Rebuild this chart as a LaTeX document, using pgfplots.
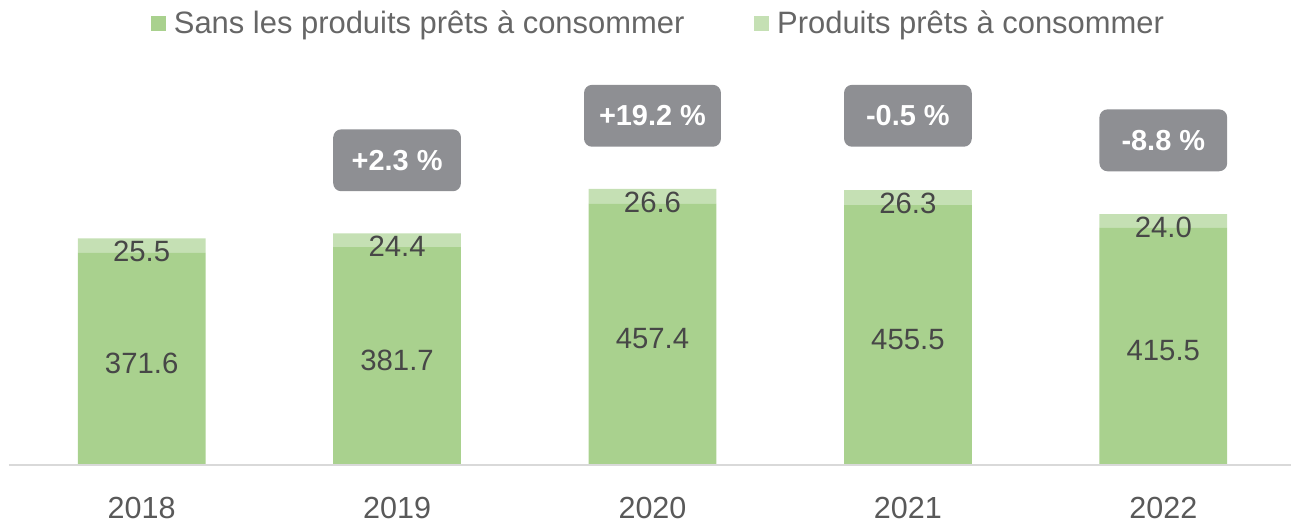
\documentclass[border=0pt]{standalone}
\usepackage{pgfplots}
\pgfplotsset{compat=1.18}
\usepackage{fontspec}
\setmainfont{Liberation Sans}
\definecolor{dgreen}{HTML}{A9D18E}
\definecolor{lgreen}{HTML}{C5E0B4}
\definecolor{boxgray}{HTML}{8E8F93}
\definecolor{txt}{HTML}{474747}
\definecolor{ticktxt}{HTML}{595959}
\definecolor{legtxt}{HTML}{666666}
\definecolor{axline}{HTML}{D9D9D9}
\begin{document}
\begin{tikzpicture}
\begin{axis}[
  at={(0,0)}, anchor=south west,
  width=640pt, height=203pt, scale only axis,
  xmin=-0.5, xmax=4.5, ymin=0, ymax=710,
  ybar stacked, bar width=64pt,
  clip=false,
  axis line style={draw=none},
  major tick style={draw=none},
  ytick=\empty,
  xtick={0,1,2,3,4},
  xticklabels={2018,2019,2020,2021,2022},
  xticklabel style={text=ticktxt, font=\fontsize{15.3}{18}\selectfont, yshift=-12.5pt},
  legend columns=2,
  legend style={draw=none, fill=none, at={(0.5,1)}, anchor=center, xshift=3.5pt, yshift=18pt,
    font=\fontsize{15.5}{18}\selectfont, text=legtxt,
    /tikz/every even column/.append style={column sep=33pt},
    /tikz/every odd column/.append style={column sep=2pt},
    inner sep=0pt},
  legend image code/.code={\fill[#1] (0pt,-3.75pt) rectangle (7.5pt,3.75pt);},
]
\addplot[fill=dgreen, draw=none] coordinates {(0,371.6) (1,381.7) (2,457.4) (3,455.5) (4,415.5)};
\addplot[fill=lgreen, draw=none] coordinates {(0,25.5) (1,24.4) (2,26.6) (3,26.3) (4,24.0)};
\legend{Sans les produits prêts à consommer, Produits prêts à consommer}
\coordinate (b0) at (axis cs:-0.52,0);
\coordinate (b1) at (axis cs:4.5,0);
\coordinate (a0) at (axis cs:0,185.8);
\coordinate (a1) at (axis cs:1,190.85);
\coordinate (a2) at (axis cs:2,228.7);
\coordinate (a3) at (axis cs:3,227.75);
\coordinate (a4) at (axis cs:4,207.75);
\coordinate (c0) at (axis cs:0,382);
\coordinate (c1) at (axis cs:1,391.5);
\coordinate (c2) at (axis cs:2,468.3);
\coordinate (c3) at (axis cs:3,466.2);
\coordinate (c4) at (axis cs:4,425);
\coordinate (d1) at (axis cs:1,534);
\coordinate (d2) at (axis cs:2,612);
\coordinate (d3) at (axis cs:3,612);
\coordinate (d4) at (axis cs:4,569);
\end{axis}
\draw[axline, line width=1pt] (b0) -- (b1);
\begin{scope}[every node/.style={text=txt, font=\fontsize{14.7}{17}\selectfont, yshift=-2.3pt}]
\node at (a0) {371.6};
\node at (a1) {381.7};
\node at (a2) {457.4};
\node at (a3) {455.5};
\node at (a4) {415.5};
\node at (c0) {25.5};
\node at (c1) {24.4};
\node at (c2) {26.6};
\node at (c3) {26.3};
\node at (c4) {24.0};
\end{scope}
\begin{scope}[every node/.style={fill=boxgray, rounded corners=4pt, minimum width=64pt, minimum height=31pt, inner xsep=7.5pt, text=white, font=\bfseries\fontsize{14.5}{17}\selectfont}]
\node at (d1) {+2.3 \%};
\node at (d2) {+19.2 \%};
\node at (d3) {-0.5 \%};
\node at (d4) {-8.8 \%};
\end{scope}
\useasboundingbox (-7pt,-26.5pt) rectangle (639pt,233pt);
\end{tikzpicture}
\end{document}
